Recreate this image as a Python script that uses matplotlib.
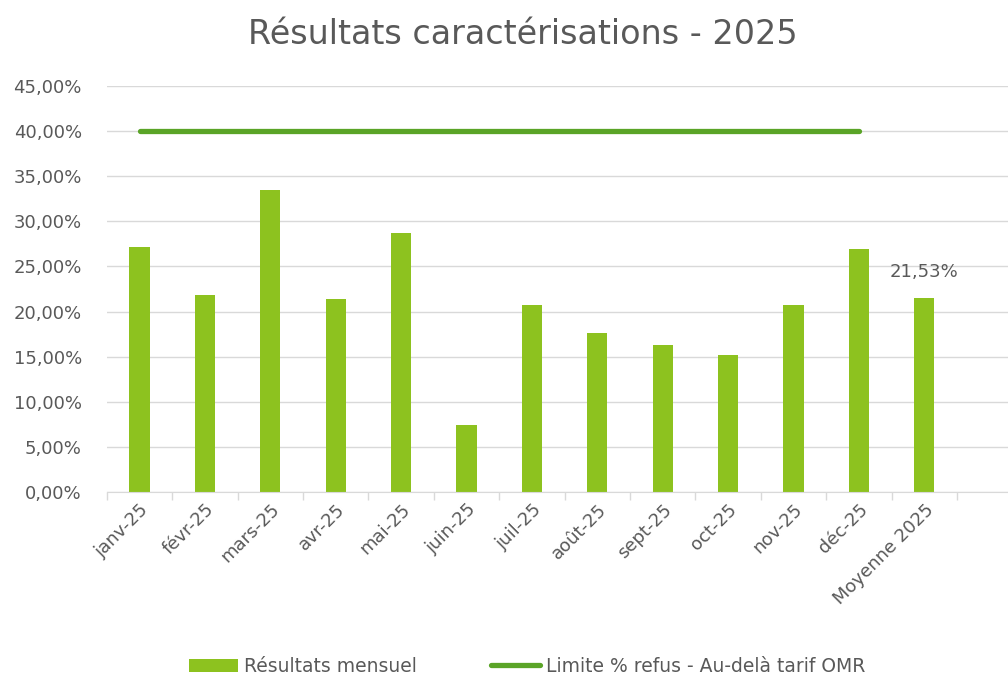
import matplotlib.pyplot as plt
import numpy as np

mois = ['janv-25', 'févr-25', 'mars-25', 'avr-25', 'mai-25', 'juin-25', 'juil-25',
        'août-25', 'sept-25', 'oct-25', 'nov-25', 'déc-25', 'Moyenne 2025']
resultats = [27.2, 21.8, 33.5, 21.4, 28.7, 7.4, 20.7, 17.6, 16.3, 15.2, 20.7, 26.9, 21.53]
limite = [40.0] * 12
yticks = list(range(0, 50, 5))

gris = '#595959'
vert_barre = '#8DC21F'
vert_ligne = '#5AA427'

plt.rcParams['font.family'] = ['DejaVu Sans']

fig = plt.figure(figsize=(10.08, 6.83), dpi=100)
ax = fig.add_axes([0.106, 0.2796, 0.894, 0.5944])

x = np.arange(len(mois))
barres = ax.bar(x, resultats, width=0.31, color=vert_barre, zorder=2)
ligne, = ax.plot(x[:12], limite, color=vert_ligne, linewidth=3.8, solid_capstyle='round',
                 zorder=3)

# étiquette de la moyenne
ax.annotate(f"{resultats[-1]:.2f}%".replace('.', ','), (x[-1], resultats[-1]),
            xytext=(0, 26), textcoords='offset pixels', ha='center', va='center',
            fontsize=13, color=gris)

ax.set_yticks(yticks)
ax.set_yticklabels([f"{v},00%" for v in yticks], fontsize=13, color=gris)
ax.yaxis.grid(True, color='#D9D9D9', linewidth=1, zorder=0)
ax.set_axisbelow(True)

ax.set_xticks(x)
ax.set_xticklabels(mois, rotation=45, ha='right', rotation_mode='anchor',
                   fontsize=13, color=gris)
ax.set_xticks(np.arange(-0.5, 13.6, 1), minor=True)
ax.tick_params(axis='x', which='major', length=0, pad=6)
ax.tick_params(axis='x', which='minor', length=6, color='#D9D9D9', width=1)
ax.tick_params(axis='y', length=0, pad=18)

ax.set_ylim(0, 45)
ax.set_xlim(-0.5, 13.28)

for s in ['top', 'right', 'left']:
    ax.spines[s].set_visible(False)
ax.spines['bottom'].set_color('#D9D9D9')

fig.suptitle('Résultats caractérisations - 2025', fontsize=24, color=gris,
             x=0.519, y=0.974)

fig.legend([barres, ligne], ['Résultats mensuel', 'Limite % refus - Au-delà tarif OMR'],
           loc='lower center', ncol=2, frameon=False, fontsize=13.5,
           bbox_to_anchor=(0.523, -0.014), handlelength=2.6, columnspacing=4.0,
           handletextpad=0.3, labelcolor=gris)

plt.savefig('out.png', dpi=100)
